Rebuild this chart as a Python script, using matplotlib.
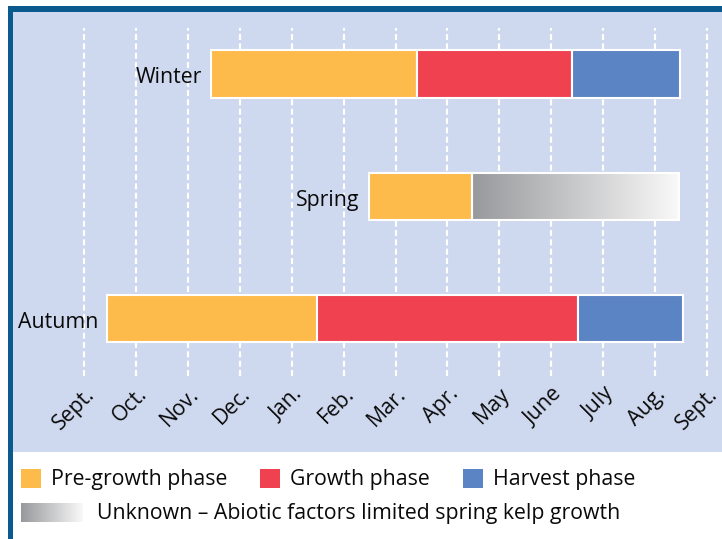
import numpy as np
import matplotlib
matplotlib.use("Agg")
import matplotlib.pyplot as plt
from matplotlib.patches import Rectangle
from matplotlib.colors import LinearSegmentedColormap

plt.rcParams['font.family'] = ['Open Sans', 'DejaVu Sans']

# data: months from Sept. (0) to Sept. (12)
months = ['Sept.', 'Oct.', 'Nov.', 'Dec.', 'Jan.', 'Feb.', 'Mar.', 'Apr.',
          'May', 'June', 'July', 'Aug.', 'Sept.']
seasons = ['Autumn', 'Spring', 'Winter']
pre_start = [0.44, 5.48, 2.44]
growth_start = [4.49, None, 6.41]
harvest_start = [9.51, None, 9.40]
unknown_start = [None, 7.48, None]
end = [11.54, 11.46, 11.48]

c_pre = '#FDBB4B'
c_growth = '#F04150'
c_harvest = '#5B84C4'
c_panel = '#CED8EE'
c_border = '#0B5A8D'
c_text = '#0A0A0A'
grey_cmap = LinearSegmentedColormap.from_list('unk', ['#98999C', '#F9F9F9'])
grad = np.linspace(0, 1, 256).reshape(1, -1)

W, H = 722, 539
fig = plt.figure(figsize=(W / 100, H / 100), dpi=100)

# background / border / legend layer in pixel coordinates
bg = fig.add_axes([0, 0, 1, 1])
bg.set_xlim(0, W)
bg.set_ylim(H, 0)
bg.axis('off')
bg.add_patch(Rectangle((8, 6), W - 8, 6, color=c_border, lw=0))
bg.add_patch(Rectangle((8, 6), 5, H - 6, color=c_border, lw=0))

# main panel
ax = fig.add_axes([13 / W, (H - 452) / H, (W - 13) / W, 440 / H])
ax.set_facecolor(c_panel)
for s in ax.spines.values():
    s.set_visible(False)
ax.set_xticks([])
ax.set_yticks([])

# dashed month lines
ax.vlines(range(len(months)), -0.465, 2.376, colors='white', lw=1.6,
          linestyles=(0, (2.7, 1.5)), zorder=1)

bh = 0.384
fs = 15.3
for i, name in enumerate(seasons):
    y0 = i - bh / 2
    if growth_start[i] is not None:
        segs = [(pre_start[i], growth_start[i], c_pre),
                (growth_start[i], harvest_start[i], c_growth),
                (harvest_start[i], end[i], c_harvest)]
    else:
        segs = [(pre_start[i], unknown_start[i], c_pre)]
        ax.imshow(grad, cmap=grey_cmap, aspect='auto', zorder=2,
                  extent=(unknown_start[i], end[i], y0, y0 + bh))
        ax.add_patch(Rectangle((unknown_start[i], y0), end[i] - unknown_start[i], bh,
                               fill=False, ec='white', lw=1.5, zorder=3))
    for a, b, c in segs:
        ax.add_patch(Rectangle((a, y0), b - a, bh, fc=c, ec='white', lw=1.5, zorder=3))
    ax.text(pre_start[i] - 0.17, i - 0.03, name, ha='right', va='center',
            fontsize=fs, color=c_text)

# rotated month labels
for m, lab in enumerate(months):
    ax.text(m + 0.15, -0.59, lab, rotation=45, rotation_mode='anchor',
            ha='right', va='center', fontsize=fs, color=c_text)

ax.set_xlim(-1.3675, 12.288)
ax.set_ylim(-1.086, 2.506)

# legend
items = [(21, c_pre, 'Pre-growth phase'), (260, c_growth, 'Growth phase'),
         (463, c_harvest, 'Harvest phase')]
for x, c, lab in items:
    bg.add_patch(Rectangle((x, 469), 20, 19, fc=c, lw=0))
    bg.text(x + 30, 479, lab, ha='left', va='center', fontsize=fs, color=c_text)
bg.imshow(grad, cmap=grey_cmap, aspect='auto', extent=(21, 83, 522, 503))
bg.text(97, 513, 'Unknown \u2013 Abiotic factors limited spring kelp growth',
        ha='left', va='center', fontsize=fs, color=c_text)
bg.set_xlim(0, W)
bg.set_ylim(H, 0)

fig.savefig('out.png', dpi=100)
